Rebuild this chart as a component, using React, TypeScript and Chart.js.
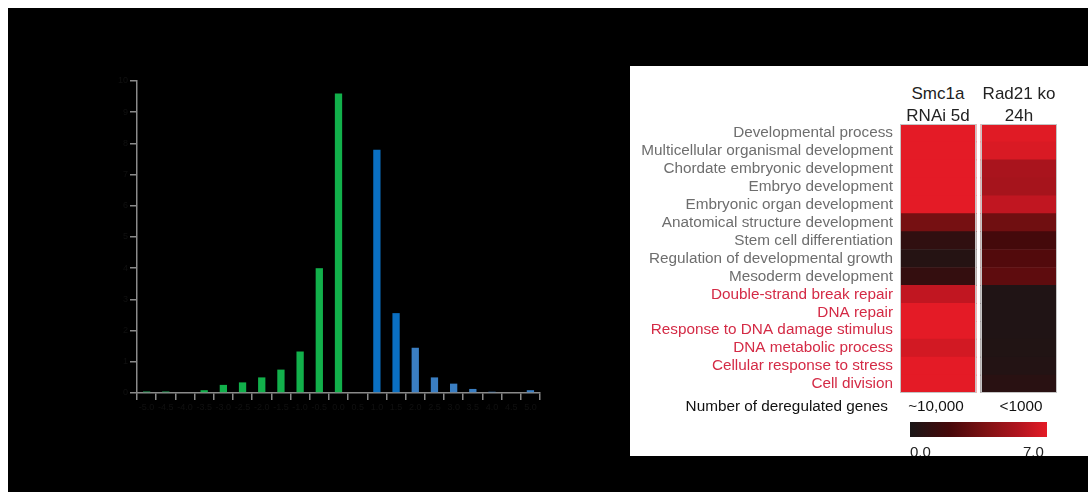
import React, { useEffect, useRef } from "react";
import { Chart, registerables } from "chart.js";

Chart.register(...registerables);

// ---------- Left chart data (distribution of fold changes) ----------
const BIN_LABELS = [
  "-5.0", "-4.5", "-4.0", "-3.5", "-3.0", "-2.5", "-2.0", "-1.5", "-1.0", "-0.5", "0.0",
  "0.5", "1.0", "1.5", "2.0", "2.5", "3.0", "3.5", "4.0", "4.5", "5.0",
];
const GENE_SHARE = [
  0.05, 0.05, 0, 0.09, 0.26, 0.34, 0.5, 0.75, 1.33, 4.0, 9.6,
  0, 7.8, 2.56, 1.45, 0.5, 0.3, 0.13, 0.04, 0, 0.09,
];
const Y_MIN = 0;
const Y_MAX = 10;
const Y_STEP = 1;
const BAR_COLORS = [
  "#1f9a52", "#1f9a52", "#12b04b", "#12b04b", "#12b04b", "#12b04b", "#12b04b", "#12b04b", "#12b04b", "#12b04b", "#12b04b",
  "#0a6fc2", "#0a6fc2", "#0a6fc2", "#3a7ec2", "#3a7ec2", "#3a7ec2", "#3a7ec2", "#3a7ec2", "#3a7ec2", "#3a7ec2",
];

// ---------- Right heatmap data ----------
const GO_TERMS = [
  "Developmental process",
  "Multicellular organismal development",
  "Chordate embryonic development",
  "Embryo development",
  "Embryonic organ development",
  "Anatomical structure development",
  "Stem cell differentiation",
  "Regulation of developmental growth",
  "Mesoderm development",
  "Double-strand break repair",
  "DNA repair",
  "Response to DNA damage stimulus",
  "DNA metabolic process",
  "Cellular response to stress",
  "Cell division",
];
const TERM_IS_DNA = [false, false, false, false, false, false, false, false, false, true, true, true, true, true, true];
const SMC1A_VALUES = [7, 7, 7, 7, 7, 3.6, 1.0, 0.5, 1.2, 6.0, 7, 7, 6.5, 7, 7];
const RAD21_VALUES = [6.9, 6.7, 5.3, 5.2, 6.0, 3.4, 1.9, 2.4, 2.8, 0.25, 0.25, 0.25, 0.3, 0.4, 0.7];
const COLUMN_HEADERS = [["Smc1a", "RNAi 5d"], ["Rad21 ko", "24h"]];
const DEREGULATED_COUNTS = ["~10,000", "<1000"];
const SCALE_MIN = 0;
const SCALE_MAX = 7;

// colour map (style)
const SCALE_STOPS = [0, 2, 4, 5.5, 7];
const SCALE_RGB = [
  [26, 22, 22],
  [70, 8, 10],
  [130, 18, 20],
  [175, 20, 30],
  [228, 27, 38],
];

function valueColor(v: number): string {
  if (v <= SCALE_STOPS[0]) return `rgb(${SCALE_RGB[0].join(",")})`;
  for (let i = 1; i < SCALE_STOPS.length; i++) {
    if (v <= SCALE_STOPS[i]) {
      const t = (v - SCALE_STOPS[i - 1]) / (SCALE_STOPS[i] - SCALE_STOPS[i - 1]);
      const a = SCALE_RGB[i - 1];
      const b = SCALE_RGB[i];
      const c = a.map((x, k) => Math.round(x + (b[k] - x) * t));
      return `rgb(${c.join(",")})`;
    }
  }
  return `rgb(${SCALE_RGB[SCALE_RGB.length - 1].join(",")})`;
}

const FONT = "'Liberation Sans', Arial, sans-serif";
const AXIS_GREY = "#8a8a8a";

const COL_WIDTH = 76;
const COL_GAP = 5;

const columnOutline = {
  id: "columnOutline",
  afterDatasetsDraw(chart: any) {
    const { ctx, chartArea, scales } = chart;
    const xs = scales.x;
    ctx.save();
    ctx.strokeStyle = "#c4c4c4";
    ctx.lineWidth = 1;
    chart.data.datasets.forEach((ds: any) => {
      const range = ds.data[0] as number[];
      const x0 = xs.getPixelForValue(range[0]);
      const x1 = xs.getPixelForValue(range[1]);
      ctx.strokeRect(Math.round(x0) + 0.5, Math.round(chartArea.top) + 0.5, Math.round(x1 - x0) - 1, Math.round(chartArea.bottom - chartArea.top) - 1);
    });
    ctx.restore();
  },
};

export default function App() {
  const barRef = useRef<HTMLCanvasElement>(null);
  const heatRef = useRef<HTMLCanvasElement>(null);

  useEffect(() => {
    const barChart = new Chart(barRef.current!, {
      type: "bar",
      data: {
        labels: BIN_LABELS,
        datasets: [
          {
            data: GENE_SHARE,
            backgroundColor: BAR_COLORS,
            borderWidth: 0,
            barPercentage: 0.38,
            categoryPercentage: 1,
          },
        ],
      },
      options: {
        responsive: false,
        animation: false,
        devicePixelRatio: 1,
        events: [],
        layout: { padding: { top: 10, right: 16, bottom: 0, left: 0 } },
        plugins: { legend: { display: false }, tooltip: { enabled: false } },
        scales: {
          x: {
            grid: { display: true, drawOnChartArea: false, drawTicks: true, tickLength: 7, color: AXIS_GREY, lineWidth: 1.5, offset: true },
            border: { display: true, color: AXIS_GREY, width: 1.5 },
            ticks: { color: "#101010", font: { family: FONT, size: 9 }, maxRotation: 0, autoSkip: false, padding: 2 },
            afterFit: (s: any) => { s.height = 28; },
          },
          y: {
            min: Y_MIN,
            max: Y_MAX,
            grid: { display: true, drawOnChartArea: false, drawTicks: true, tickLength: 7, color: AXIS_GREY, lineWidth: 1.5 },
            border: { display: true, color: AXIS_GREY, width: 1.5 },
            ticks: { stepSize: Y_STEP, color: "#101010", font: { family: FONT, size: 9 }, padding: 2 },
            afterFit: (s: any) => { s.width = 41; },
          },
        },
      },
    });

    const heatChart = new Chart(heatRef.current!, {
      type: "bar",
      data: {
        labels: GO_TERMS,
        datasets: [
          {
            label: COLUMN_HEADERS[0].join(" "),
            data: GO_TERMS.map(() => [0, COL_WIDTH]),
            backgroundColor: SMC1A_VALUES.map(valueColor),
            borderWidth: 0,
            barPercentage: 1,
            categoryPercentage: 1,
            grouped: false,
          } as any,
          {
            label: COLUMN_HEADERS[1].join(" "),
            data: GO_TERMS.map(() => [COL_WIDTH + COL_GAP, 2 * COL_WIDTH + COL_GAP]),
            backgroundColor: RAD21_VALUES.map(valueColor),
            borderWidth: 0,
            barPercentage: 1,
            categoryPercentage: 1,
            grouped: false,
          } as any,
        ],
      },
      options: {
        indexAxis: "y",
        responsive: false,
        animation: false,
        devicePixelRatio: 1,
        events: [],
        layout: { padding: { top: 10, right: 10, bottom: 10, left: 0 } },
        plugins: { legend: { display: false }, tooltip: { enabled: false } },
        scales: {
          x: { type: "linear", min: 0, max: 2 * COL_WIDTH + COL_GAP, display: false },
          y: {
            type: "category",
            grid: { display: false, drawTicks: false },
            border: { display: false },
            ticks: {
              padding: 7,
              autoSkip: false,
              font: { family: FONT, size: 15.3 },
              color: (ctx: any) => (TERM_IS_DNA[ctx.index] ? "#d42a45" : "#6e6e6e"),
            },
            afterFit: (s: any) => {
              s.width = 270;
              s.paddingTop = 0;
              s.paddingBottom = 0;
            },
          },
        },
      },
      plugins: [columnOutline],
    });

    return () => {
      barChart.destroy();
      heatChart.destroy();
    };
  }, []);

  const abs = (extra: React.CSSProperties): React.CSSProperties => ({ position: "absolute", ...extra });
  const textBase: React.CSSProperties = { fontFamily: FONT, whiteSpace: "nowrap", color: "#1a1a1a" };
  const colCenters = [938, 1019];

  const gradient = `linear-gradient(to right, ${SCALE_STOPS.map((s, i) => `rgb(${SCALE_RGB[i].join(",")}) ${((s - SCALE_MIN) / (SCALE_MAX - SCALE_MIN)) * 100}%`).join(", ")})`;

  return (
    <div style={{ position: "fixed", left: 0, top: 0, width: 1088, height: 492, background: "#fff", overflow: "hidden" }}>
      <div style={abs({ left: 8, top: 8, width: 1080, height: 484, background: "#000" })} />
      <canvas ref={barRef} width={460} height={350} style={abs({ left: 96, top: 71, width: 460, height: 350 })} />
      <div style={abs({ left: 630, top: 66, width: 470, height: 390, background: "#fff", overflow: "hidden" })} />
      <canvas ref={heatRef} width={437} height={289} style={abs({ left: 630, top: 114, width: 437, height: 289 })} />
      {COLUMN_HEADERS.map((lines, i) =>
        lines.map((t, j) => (
          <div key={`h${i}${j}`} style={abs({ ...textBase, left: colCenters[i] - 60, width: 120, textAlign: "center", top: 83 + j * 22, fontSize: 17, lineHeight: "22px", color: "#222" })}>
            {t}
          </div>
        ))
      )}
      <div style={abs({ ...textBase, left: 588, width: 300, textAlign: "right", top: 396, fontSize: 15.3, lineHeight: "20px", color: "#111" })}>
        Number of deregulated genes
      </div>
      {DEREGULATED_COUNTS.map((t, i) => (
        <div key={`c${i}`} style={abs({ ...textBase, left: [936, 1021][i] - 60, width: 120, textAlign: "center", top: 396, fontSize: 15.3, lineHeight: "20px", color: "#111" })}>
          {t}
        </div>
      ))}
      <div style={abs({ left: 910, top: 422, width: 137, height: 15, background: gradient })} />
      <div style={{ position: "absolute", left: 630, top: 66, width: 458, height: 390, overflow: "hidden", pointerEvents: "none" }}>
        <div style={abs({ ...textBase, left: 910 - 630, top: 443 - 66, fontSize: 15, lineHeight: "18px", color: "#222" })}>{SCALE_MIN.toFixed(1)}</div>
        <div style={abs({ ...textBase, left: 1023 - 630, top: 443 - 66, fontSize: 15, lineHeight: "18px", color: "#222" })}>{SCALE_MAX.toFixed(1)}</div>
      </div>
    </div>
  );
}
